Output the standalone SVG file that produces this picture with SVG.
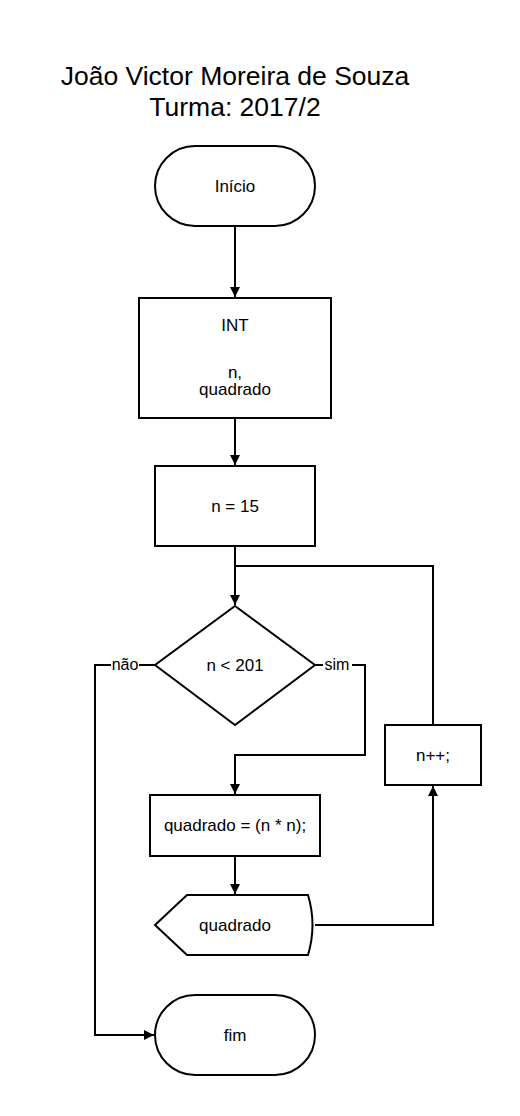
<svg xmlns="http://www.w3.org/2000/svg" width="520" height="1116" viewBox="0 0 520 1116">
<defs>
<marker id="ah" markerWidth="12" markerHeight="12" refX="10" refY="6" orient="auto" markerUnits="userSpaceOnUse">
<path d="M0,1 L10,6 L0,11 Z" fill="#000"/>
</marker>
</defs>
<style>
.s{fill:#fff;stroke:#000;stroke-width:2}
.t{font-family:"Liberation Sans",Arial,sans-serif;font-size:17px;fill:#000;text-anchor:middle}
.ti{font-family:"Liberation Sans",Arial,sans-serif;font-size:26.5px;fill:#000;text-anchor:middle}
.c{fill:none;stroke:#000;stroke-width:2}
.lb{font-family:"Liberation Sans",Arial,sans-serif;font-size:16px;fill:#000;text-anchor:middle}
</style>
<rect width="520" height="1116" fill="#fff"/>
<g id="title">
<text class="ti" x="235" y="85">João Victor Moreira de Souza</text>
<text class="ti" x="235" y="116">Turma: 2017/2</text>
</g>
<g id="connectors">
<path class="c" d="M235,226 V297" marker-end="url(#ah)"/>
<path class="c" d="M235,418 V465" marker-end="url(#ah)"/>
<path class="c" d="M235,546 V605" marker-end="url(#ah)"/>
<path class="c" d="M433,725 V566 H235"/>
<path class="c" d="M315,665 H365 V755 H235 V794" marker-end="url(#ah)"/>
<path class="c" d="M235,856 V894" marker-end="url(#ah)"/>
<path class="c" d="M315,925 H433 V786" marker-end="url(#ah)"/>
<path class="c" d="M155,665 H95 V1035 H154" marker-end="url(#ah)"/>
<rect x="323" y="656" width="29" height="18" fill="#fff"/>
<text class="lb" x="337" y="670">sim</text>
<rect x="111" y="656" width="28" height="18" fill="#fff"/>
<text class="lb" x="125" y="670">não</text>
</g>
<g id="inicio">
<rect class="s" x="155" y="146" width="160" height="80" rx="40" ry="40"/>
<text class="t" x="235" y="192">Início</text>
</g>
<g id="decl">
<rect class="s" x="139" y="298" width="192" height="120"/>
<text class="t" x="235" y="331">INT</text>
<text class="t" x="235" y="378">n,</text>
<text class="t" x="235" y="395">quadrado</text>
</g>
<g id="assign">
<rect class="s" x="155" y="466" width="160" height="80"/>
<text class="t" x="235" y="512">n = 15</text>
</g>
<g id="decision">
<path class="s" d="M235,606 L315,665 L235,725 L155,665 Z"/>
<text class="t" x="235" y="671">n &lt; 201</text>
</g>
<g id="calc">
<rect class="s" x="150" y="795" width="170" height="61"/>
<text class="t" x="235" y="831">quadrado = (n * n);</text>
</g>
<g id="display">
<path class="s" d="M155,925 L187,895 H308 Q317,925 308,955 H187 Z"/>
<text class="t" x="235" y="931">quadrado</text>
</g>
<g id="incr">
<rect class="s" x="385" y="725" width="96" height="60"/>
<text class="t" x="433" y="761">n++;</text>
</g>
<g id="fim">
<rect class="s" x="155" y="995" width="160" height="80" rx="40" ry="40"/>
<text class="t" x="235" y="1041">fim</text>
</g>
</svg>
